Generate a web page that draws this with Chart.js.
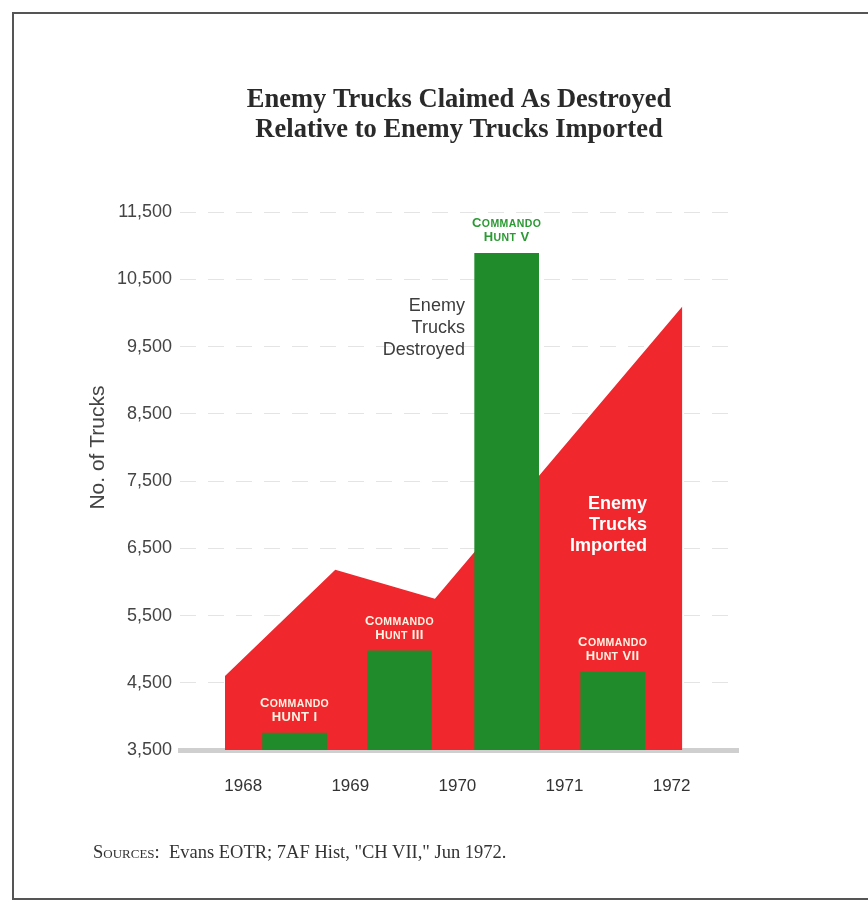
<!DOCTYPE html>
<html>
<head>
<meta charset="utf-8">
<title>Enemy Trucks Claimed As Destroyed Relative to Enemy Trucks Imported</title>
<script src="https://cdn.jsdelivr.net/npm/chart.js@4"></script>
<style>
  html, body { margin: 0; padding: 0; background: #fff; }
  body { width: 868px; height: 904px; position: relative; overflow: hidden; }
  #frame { position: absolute; left: 12px; top: 12px; width: 900px; height: 888px; border: 2px solid #555; box-sizing: border-box; }
  #chart { position: absolute; left: 0; top: 0; }
  #sources { position: absolute; left: 93px; top: 842px; font: 18.5px "Liberation Serif", "Times New Roman", serif; color: #333; white-space: pre; }
  #sources .sc { font-variant: small-caps; }
</style>
</head>
<body>
<div id="frame"></div>
<canvas id="chart" width="868" height="904"></canvas>
<div id="sources"><span class="sc">Sources:</span>  Evans EOTR; 7AF Hist, "CH VII," Jun 1972.</div>
<script>
const YEAR_TICKS = [1968, 1969, 1970, 1971, 1972];
const COUNT_TICKS = [3500, 4500, 5500, 6500, 7500, 8500, 9500, 10500, 11500];

// red area: enemy trucks imported (x in fractional years)
const IMPORTED_X = [1967.83, 1968.86, 1969.79, 1972.10];
const IMPORTED_Y = [4600, 6180, 5750, 10100];

// green bars: trucks claimed destroyed, one per Commando Hunt campaign
const CAMPAIGNS = ["HUNT I", "Hunt III", "Hunt V", "Hunt VII"];
const DESTROYED_X = [1968.48, 1969.46, 1970.46, 1971.45];
const DESTROYED_Y = [3750, 4975, 10890, 4660];

const RED = "#f0282d";
const GREEN = "#1f8b2a";
const SANS = '"Liberation Sans", Arial, sans-serif';

Chart.defaults.font.family = SANS;

// small caps: capitals in the source text stay big, lowercase become small capitals
function smallCaps(ctx, text, cx, baseY, color) {
  const parts = [...text].map((ch) => {
    const big = ch === ch.toUpperCase();
    return { ch: ch.toUpperCase(), font: `bold ${big ? 13 : 10.5}px ${SANS}` };
  });
  let total = 0;
  for (const p of parts) {
    ctx.font = p.font;
    p.w = ctx.measureText(p.ch).width + 0.4;
    total += p.w;
  }
  let px = cx - total / 2;
  ctx.fillStyle = color;
  ctx.textAlign = "left";
  ctx.textBaseline = "alphabetic";
  for (const p of parts) {
    ctx.font = p.font;
    ctx.fillText(p.ch, px, baseY);
    px += p.w;
  }
}

const annotations = {
  id: "annotations",
  afterDatasetsDraw(chart) {
    const { ctx, scales: { x, y } } = chart;
    ctx.save();

    DESTROYED_X.forEach((v, i) => {
      const cx = x.getPixelForValue(v);
      const top = y.getPixelForValue(DESTROYED_Y[i]);
      const color = i === 2 ? "#2a9a33" : "#fff3e4";
      smallCaps(ctx, "Commando", cx, top - 26, color);
      smallCaps(ctx, CAMPAIGNS[i], cx, top - 12, color);
    });

    ctx.textAlign = "right";
    ctx.textBaseline = "middle";

    ctx.font = `18px ${SANS}`;
    ctx.fillStyle = "#3d3d3d";
    let ax = x.getPixelForValue(1970.07);
    let ay = y.getPixelForValue(10100);
    ["Enemy", "Trucks", "Destroyed"].forEach((t, i) => ctx.fillText(t, ax, ay + i * 22));

    ctx.font = `bold 18px ${SANS}`;
    ctx.fillStyle = "#ffffff";
    ax = x.getPixelForValue(1971.77);
    ay = y.getPixelForValue(7160);
    ["Enemy", "Trucks", "Imported"].forEach((t, i) => ctx.fillText(t, ax, ay + i * 21));

    // y axis title
    ctx.translate(y.left + 42, y.getPixelForValue(8000));
    ctx.rotate(-Math.PI / 2);
    ctx.textAlign = "center";
    ctx.font = `21px ${SANS}`;
    ctx.fillStyle = "#444";
    ctx.fillText("No. of Trucks", 0, 0);

    ctx.restore();
  },
};

new Chart(document.getElementById("chart"), {
  type: "bar",
  data: {
    datasets: [
      {
        type: "line",
        label: "Enemy Trucks Imported",
        data: IMPORTED_X.map((x, i) => ({ x, y: IMPORTED_Y[i] })),
        fill: "start",
        backgroundColor: RED,
        borderColor: RED,
        borderWidth: 0,
        pointRadius: 0,
        tension: 0,
        order: 2,
      },
      {
        type: "bar",
        label: "Enemy Trucks Destroyed",
        data: DESTROYED_X.map((x, i) => ({ x, y: DESTROYED_Y[i] })),
        backgroundColor: GREEN,
        barThickness: 64,
        order: 1,
      },
    ],
  },
  options: {
    responsive: false,
    animation: false,
    layout: { padding: { left: 56, right: 130, top: 0, bottom: 104 } },
    plugins: {
      legend: { display: false },
      tooltip: { enabled: false },
      title: {
        display: true,
        fullSize: false,
        text: ["Enemy Trucks Claimed As Destroyed", "Relative to Enemy Trucks Imported"],
        color: "#2a2a2a",
        font: { family: '"Liberation Serif", "Times New Roman", serif', size: 26.5, weight: "bold", lineHeight: 1.1 },
        padding: { top: 86, bottom: 68 },
      },
    },
    scales: {
      x: {
        type: "linear",
        offset: false,
        min: 1967.41,
        max: 1972.62,
        afterBuildTicks: (s) => { s.ticks = YEAR_TICKS.map((value) => ({ value })); },
        afterFit: (s) => { s.height = 50; },
        ticks: { callback: (v) => String(v), padding: 18, color: "#333", font: { size: 17 } },
        grid: { display: false },
        border: { color: "#cfcfcf", width: 5 },
      },
      y: {
        min: 3500,
        max: 11500,
        afterBuildTicks: (s) => { s.ticks = COUNT_TICKS.map((value) => ({ value })); },
        afterFit: (s) => { s.width = 124; },
        ticks: { callback: (v) => v.toLocaleString("en-US"), padding: 8, color: "#444", font: { size: 18 } },
        grid: { color: "#e4e4e4", drawTicks: false },
        border: { display: false, dash: [16, 12] },
      },
    },
  },
  plugins: [annotations],
});
</script>
</body>
</html>
